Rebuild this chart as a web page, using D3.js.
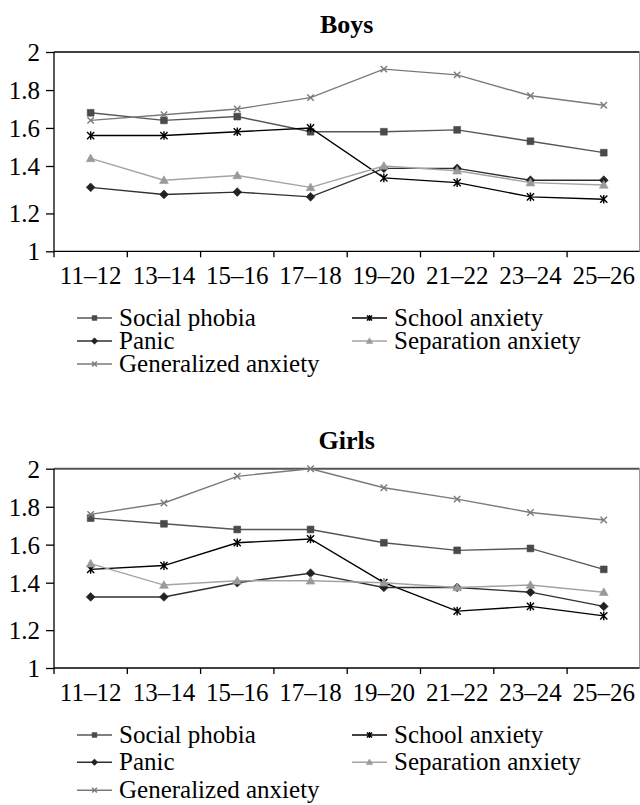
<!DOCTYPE html>
<meta charset="utf-8">
<script src="https://d3js.org/d3.v7.min.js"></script>
<style>
  body { margin: 0; background: #fff; }
  svg text { font-family: "Liberation Serif", Tinos, "Times New Roman", "DejaVu Serif", serif; fill: #000; }
</style>
<body>
<script type="text/javascript">

// age groups on the x axis
var ages = ["11–12", "13–14", "15–16", "17–18", "19–20", "21–22", "23–24", "25–26"];

// y axis tick labels
var yTicks = [1, 1.2, 1.4, 1.6, 1.8, 2];

var seriesNames = ["Social phobia", "School anxiety", "Panic", "Separation anxiety", "Generalized anxiety"];

// boys
var socialBoys      = [1.68, 1.64, 1.66, 1.58, 1.58, 1.59, 1.53, 1.47];
var schoolBoys      = [1.56, 1.56, 1.58, 1.60, 1.35, 1.33, 1.27, 1.26];
var panicBoys       = [1.31, 1.28, 1.29, 1.27, 1.39, 1.39, 1.34, 1.34];
var separationBoys  = [1.44, 1.34, 1.36, 1.31, 1.40, 1.38, 1.33, 1.32];
var generalizedBoys = [1.64, 1.67, 1.70, 1.76, 1.91, 1.88, 1.77, 1.72];

// girls
var socialGirls      = [1.74, 1.71, 1.68, 1.68, 1.61, 1.57, 1.58, 1.47];
var schoolGirls      = [1.47, 1.49, 1.61, 1.63, 1.40, 1.28, 1.30, 1.26];
var panicGirls       = [1.34, 1.34, 1.40, 1.45, 1.38, 1.38, 1.36, 1.30];
var separationGirls  = [1.50, 1.39, 1.41, 1.41, 1.40, 1.38, 1.39, 1.36];
var generalizedGirls = [1.76, 1.82, 1.96, 2.00, 1.90, 1.84, 1.77, 1.73];

// look of each series (same order as seriesNames)
var styles = [
  {line: "#565656", fill: "#4a4a4a", marker: "square"},
  {line: "#000000", fill: "#000000", marker: "asterisk"},
  {line: "#303030", fill: "#222222", marker: "diamond"},
  {line: "#a3a3a3", fill: "#9a9a9a", marker: "triangle"},
  {line: "#7a7a7a", fill: "#7a7a7a", marker: "cross"}
];

var serif = "'Liberation Serif', Tinos, 'Times New Roman', 'DejaVu Serif', serif";

var width = 640, height = 805;
var svg = d3.select("body").append("svg")
    .attr("width", width)
    .attr("height", height)
    .attr("font-family", serif);

// marker path, r = half size
function markerPath(type, r) {
  var p = d3.path();
  if (type == "square") {
    p.rect(-r, -r, 2 * r, 2 * r);
  } else if (type == "diamond") {
    p.moveTo(0, -r); p.lineTo(r, 0); p.lineTo(0, r); p.lineTo(-r, 0); p.closePath();
  } else if (type == "triangle") {
    p.moveTo(0, -r); p.lineTo(r, r * 0.75); p.lineTo(-r, r * 0.75); p.closePath();
  } else if (type == "cross") {
    p.moveTo(-r, -r); p.lineTo(r, r); p.moveTo(r, -r); p.lineTo(-r, r);
  } else if (type == "asterisk") {
    p.moveTo(-r, -r); p.lineTo(r, r); p.moveTo(r, -r); p.lineTo(-r, r);
    p.moveTo(0, -r * 1.2); p.lineTo(0, r * 1.2);
  }
  return p.toString();
}

function isStroke(type) { return type == "cross" || type == "asterisk"; }

function drawMarker(g, st, x, y, r) {
  g.append("path")
    .attr("transform", "translate(" + x + "," + y + ")")
    .attr("d", markerPath(st.marker, r))
    .attr("fill", isStroke(st.marker) ? "none" : st.fill)
    .attr("stroke", st.fill)
    .attr("stroke-width", isStroke(st.marker) ? 1.4 : 0.6);
}

function drawPanel(offsetY, title, data, frameColor, frameWidth, legendRows) {
  var left = 54, right = 639.5, top = 52, bottom = 251.3;
  var g = svg.append("g").attr("transform", "translate(0," + offsetY + ")");

  var x = d3.scaleBand().domain(ages).range([left, left + 8 * 73.3]);

  // the printed axis is not evenly spaced, so map each tick separately
  var tickFrac = [0, 0.19, 0.428, 0.619, 0.809, 1];
  var y = d3.scaleLinear()
    .domain(yTicks)
    .range(tickFrac.map(function(f) { return bottom - f * (bottom - top); }));

  // title
  g.append("text")
    .attr("x", (left + right) / 2)
    .attr("y", 32.5)
    .attr("text-anchor", "middle")
    .style("font-family", serif)
    .style("font-size", "26px")
    .style("font-weight", "bold")
    .text(title);

  // frame on top and right
  g.append("line")
    .attr("x1", left).attr("x2", right).attr("y1", top).attr("y2", top)
    .attr("stroke", frameColor).attr("stroke-width", frameWidth);
  g.append("line")
    .attr("x1", right).attr("x2", right).attr("y1", top).attr("y2", bottom)
    .attr("stroke", "#9a9a9a").attr("stroke-width", 1);

  // y axis
  var yAxis = g.append("g")
    .attr("transform", "translate(" + left + ",0)")
    .call(d3.axisLeft(y).tickValues(yTicks).tickSize(8).tickPadding(6)
      .tickFormat(function(d) { return d3.format("")(d); }));
  yAxis.attr("font-family", serif);
  yAxis.selectAll("path, line").attr("stroke", "#000").attr("stroke-width", 1.3);
  yAxis.select(".domain").attr("d", "M0," + top + "V" + bottom);
  yAxis.selectAll("text")
    .style("font-size", "25px")
    .style("font-family", serif)
    .attr("dy", "0.34em");

  // x axis, ticks sit between the groups
  var xAxis = g.append("g")
    .attr("transform", "translate(0," + bottom + ")")
    .call(d3.axisBottom(x).tickSize(0).tickPadding(0));
  xAxis.attr("font-family", serif);
  xAxis.select(".domain").attr("d", "M" + left + ",0H" + right)
    .attr("stroke", "#000").attr("stroke-width", 1.3);
  xAxis.selectAll("text")
    .attr("y", 33)
    .attr("dy", 0)
    .style("font-size", "25px")
    .style("font-family", serif);
  xAxis.selectAll(".sep")
    .data(ages)
    .enter().append("line")
      .attr("class", "sep")
      .attr("x1", function(d) { return x(d); })
      .attr("x2", function(d) { return x(d); })
      .attr("y1", 0).attr("y2", 6)
      .attr("stroke", "#000").attr("stroke-width", 1.3);

  // lines and markers
  var line = d3.line()
    .x(function(d, i) { return x(ages[i]) + x.bandwidth() / 2; })
    .y(function(d) { return y(d); });

  var sizes = {square: 3.4, diamond: 4.4, triangle: 4.4, cross: 3.2, asterisk: 3.6};

  data.forEach(function(vals, k) {
    var st = styles[k];
    g.append("path")
      .datum(vals)
      .attr("d", line)
      .attr("fill", "none")
      .attr("stroke", st.line)
      .attr("stroke-width", 1.4);
    vals.forEach(function(v, i) {
      drawMarker(g, st, x(ages[i]) + x.bandwidth() / 2, y(v), sizes[st.marker]);
    });
  });

  // legend, two columns filled row by row
  var legSizes = {square: 2.4, diamond: 3.2, triangle: 3.2, cross: 2.4, asterisk: 2.6};
  var cols = [77, 352];
  seriesNames.forEach(function(name, k) {
    var st = styles[k];
    var cx = cols[k % 2];
    var cy = legendRows[Math.floor(k / 2)];
    g.append("line")
      .attr("x1", cx).attr("x2", cx + 35).attr("y1", cy).attr("y2", cy)
      .attr("stroke", st.line).attr("stroke-width", 1.4);
    drawMarker(g, st, cx + 17.5, cy, legSizes[st.marker]);
    g.append("text")
      .attr("x", cx + 42)
      .attr("y", cy)
      .attr("dy", "0.33em")
      .style("font-family", serif)
      .style("font-size", "25px")
      .text(name);
  });
}

drawPanel(0, "Boys",
  [socialBoys, schoolBoys, panicBoys, separationBoys, generalizedBoys],
  "#000", 1.5, [318, 341, 364]);

drawPanel(416.7, "Girls",
  [socialGirls, schoolGirls, panicGirls, separationGirls, generalizedGirls],
  "#555", 2, [318.3, 345.5, 373.5]);

</script>
</body>
</html>
